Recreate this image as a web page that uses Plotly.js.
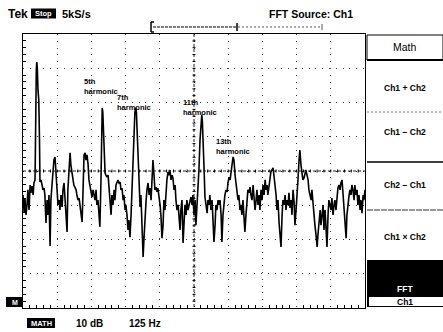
<!DOCTYPE html>
<html><head><meta charset="utf-8">
<script src="https://cdn.plot.ly/plotly-3.0.1.min.js"></script>
<style>html,body{margin:0;padding:0;background:#fff;}#chart{width:443px;height:332px;}</style>
</head><body><div id="chart"></div>
<script>
// FFT of Ch1, 125 Hz/div horizontally, 10 dB/div vertically
const freqHz = [
0,4,7,11,15,18,22,26,29,33,37,40,
44,45.7,48.6,50.4,52.3,54.8,57.7,60.3,
62,66,69,73,77,80,84,88,91,95,
99,102,106,110,113,117,121,124,128,132,
135,139,143,146,150,154,157,161,164,168,
172,175,179,183,186,190,194,197,201,205,
208,212,216,219,223,227,230,234,238,241,
245,249,252,256,260,263,267,270,274,278,
281,285,287.6,289.5,291.7,294.2,296,
300,303,307,311,314,
318,322,325,329,333,336,340,344,347,351,
355,358,362,366,369,373,376,380,384,387,
391,395,398,402,406,409,412,414.5,417,420,424,
428,431,435,439,442,446,450,453,457,461,
464,468,472,475,479,482,486,490,493,497,
501,504,508,512,515,519,523,526,530,534,
537,541,545,548,552,556,559,563,567,570,
574,577,581,585,588,592,596,599,603,607,
610,614,618,621,625,629,632,636,640,643,
647,651,653.5,655.7,658,662,665,669,673,676,680,
683,687,691,694,698,702,705,709,713,716,
720,724,727,731,735,738,742,746,749,753,
757,760,764,768,771,775,779,782,786,789,
793,797,800,804,808,811,815,819,822,826,
830,833,837,841,844,848,852,855,859,863,
866,870,874,877,881,885,888,892,895,899,
903,906,910,914,917,921,925,928,932,936,
939,943,947,950,954,958,961,965,969,972,
976,980,983,987,991,994,998,1001,1005,1009,
1012,1016,1020,1023,1027,1031,1034,1038,1042,1045,
1049,1053,1056,1060,1064,1067,1071,1075,1078,1082,
1086,1089,1093,1097,1100,1104,1107,1111,1115,1118,
1122,1126,1129,1133,1137,1140,1144,1148,1151,1155,
1159,1162,1166,1170,1173,1177,1181,1184,1188,1192,
1195,1199,1202,1206,1210,1213,1217,1221,1224,1228,
1232,1235,1239,1243,1246,1250];
const levelDb = [
-47.0,-52.0,-47.9,-52.8,-49.6,-45.5,-51.4,-44.1,-46.4,-44.4,-47.0,-43.5,
-42.6,-25.1,-10.5,-8.2,-9.9,-16.4,-19.3,-30.9,
-43.2,-42.6,-44.1,-45.5,-45.0,-47.0,-55.2,-48.5,-52.8,-47.0,
-61.9,-48.5,-44.1,-39.7,-36.8,-35.9,-41.2,-45.5,-49.9,-48.5,
-51.4,-47.0,-50.5,-45.5,-43.5,-48.5,-52.8,-57.8,-45.5,-39.7,
-34.7,-38.2,-41.2,-42.6,-44.1,-45.0,-45.5,-47.0,-48.5,-47.9,
-49.9,-51.4,-54.9,-47.0,-35.3,-34.7,-36.8,-35.3,-38.2,-42.6,
-44.1,-45.5,-47.6,-45.5,-47.0,-48.5,-45.5,-49.9,-48.5,-52.8,
-56.3,-42.6,-25.1,-21.6,-22.8,-28.0,-33.9,
-40.6,-41.2,-41.8,-41.2,-44.1,
-48.5,-52.8,-47.0,-49.9,-45.5,-48.5,-44.1,-43.2,-42.6,-43.5,
-43.2,-45.5,-45.0,-48.5,-47.0,-51.4,-49.9,-52.8,-57.2,-54.3,
-59.3,-52.8,-45.5,-36.8,-28.0,-22.8,-21.6,-22.8,-28.0,-33.9,-44.1,
-50.5,-47.0,-55.8,-65.1,-60.1,-51.4,-48.5,-45.5,-43.5,-47.0,
-45.0,-48.5,-41.2,-36.8,-41.2,-45.5,-44.7,-46.1,-45.0,-47.0,
-49.9,-52.8,-59.6,-55.8,-48.5,-51.4,-45.5,-42.6,-40.3,-41.2,
-39.7,-42.6,-41.2,-42.0,-45.5,-44.1,-48.5,-51.4,-49.9,-53.4,
-57.2,-51.4,-48.5,-61.0,-54.3,-49.9,-52.8,-48.5,-51.4,-49.9,
-48.5,-47.6,-49.9,-47.0,-52.8,-48.5,-55.8,-49.9,-45.5,-39.7,
-30.9,-24.5,-23.6,-25.7,-33.9,-39.7,-47.6,-49.9,-52.3,-48.5,-49.9,
-47.0,-51.4,-48.5,-54.3,-60.7,-55.8,-49.9,-51.4,-48.5,-49.9,
-48.5,-52.8,-60.7,-52.8,-48.5,-47.0,-45.5,-46.1,-43.5,-41.8,
-42.6,-41.2,-38.2,-35.9,-36.8,-41.2,-44.1,-45.5,-48.5,-47.0,
-51.4,-49.9,-52.8,-48.5,-55.8,-57.8,-52.8,-48.5,-45.5,-46.4,
-44.7,-47.0,-48.5,-44.1,-47.0,-51.4,-48.5,-45.5,-49.9,-47.0,
-51.4,-45.5,-48.5,-44.1,-47.0,-42.6,-45.5,-44.1,-47.0,-45.0,
-42.0,-40.3,-39.7,-39.1,-41.2,-44.1,-47.0,-51.4,-48.5,-55.2,
-60.1,-62.2,-52.8,-48.5,-49.9,-47.0,-51.4,-48.5,-49.9,-46.4,
-50.8,-48.5,-52.8,-45.5,-49.3,-55.8,-51.4,-48.5,-42.6,-36.8,
-33.9,-38.2,-41.2,-42.6,-42.0,-40.3,-39.7,-41.2,-42.6,-45.5,
-47.0,-48.5,-45.5,-49.9,-51.4,-55.8,-58.7,-62.2,-58.7,-54.3,
-51.4,-55.8,-52.8,-49.9,-57.2,-51.4,-55.8,-62.2,-52.8,-48.5,
-49.9,-51.4,-47.9,-52.8,-49.9,-48.5,-51.4,-47.0,-45.0,-44.1,
-45.5,-43.5,-42.6,-47.0,-51.4,-55.8,-59.6,-52.8,-48.5,-47.0,
-45.5,-47.0,-44.1,-45.5,-48.5,-44.1,-47.0,-45.5,-49.9,-47.0,
-51.4,-48.5,-52.3,-47.0,-48.5,-45.5];
const harmonicOrders = ['5th','7th','11th','13th'];
const menuItems = ['Ch1 + Ch2','Ch1 \u2212 Ch2','Ch2 \u2212 Ch1','Ch1 \u00d7 Ch2'];
const scaleLabels = ['10 dB','125 Hz'];

// screen geometry helpers (pixel -> paper)
const L=23,T=34,W=342,H=274;
const px = x => (x-L)/W;
const py = y => (T+H-y)/H;
const F = 'Liberation Sans, Arial, sans-serif';

function txt(text,x,y,size,opt){
  opt=opt||{};
  return {text:text,x:px(x),y:py(y),xref:'paper',yref:'paper',showarrow:false,
    xanchor:opt.xa||'left',yanchor:opt.ya||'middle',align:'left',borderpad:0,
    font:{family:F,size:size,color:opt.color||'#000',weight:opt.weight||'bold'}};
}
function rect(x0,y0,x1,y1,fill,lineColor,lw){
  return {type:'rect',xref:'paper',yref:'paper',x0:px(x0),x1:px(x1),y0:py(y0),y1:py(y1),
    fillcolor:fill||'rgba(0,0,0,0)',line:{color:lineColor||'rgba(0,0,0,0)',width:lw||0},layer:'above'};
}
function seg(x0,y0,x1,y1,color,w,dash){
  return {type:'line',xref:'paper',yref:'paper',x0:px(x0),x1:px(x1),y0:py(y0),y1:py(y1),
    line:{color:color||'#000',width:w||1,dash:dash||'solid'},layer:'above'};
}

const annotations=[
  txt('Tek',7,13.5,12),
  txt('Stop',43,13.5,7.5,{xa:'center',color:'#fff'}),
  txt('5kS/s',61,13.5,11),
  txt('FFT Source: Ch1',268,13.5,10.5),
  txt('Math',405,47,10.5,{xa:'center',weight:'normal'}),
  txt(menuItems[0],405,88,8.5,{xa:'center'}),
  txt(menuItems[1],405,132,8.5,{xa:'center'}),
  txt(menuItems[2],405,185,8.5,{xa:'center'}),
  txt(menuItems[3],405,237,8.5,{xa:'center'}),
  txt('FFT',405,289,8.5,{xa:'center',color:'#fff'}),
  txt('Ch1',405,302,8.5,{xa:'center'}),
  txt('M',14.5,302,7,{xa:'center',color:'#fff'}),
  txt('MATH',41,323,7.5,{xa:'center',color:'#fff'}),
  txt(scaleLabels[0],75,323,10),
  txt(scaleLabels[1],128,323,10),
  txt(harmonicOrders[0]+'<br>harmonic',83,76,7.5,{ya:'top'}),
  txt(harmonicOrders[1]+'<br>harmonic',116,92,7.5,{ya:'top'}),
  txt(harmonicOrders[2]+'<br>harmonic',182,97,7.5,{ya:'top'}),
  txt(harmonicOrders[3]+'<br>harmonic',215,136,7.5,{ya:'top'})
];

const shapes=[
  rect(31,8.5,56,18.5,'#000'),
  rect(6,297,23,307,'#000'),
  rect(27,318,55,328,'#000'),
  // trigger/record bracket
  seg(151,22,151,32,'#000',1.5), seg(151,22,154,22,'#000',1.5), seg(151,32,154,32,'#000',1.5),
  seg(153,27,236,27,'#000',1,'3px,1px'),
  seg(237,23,237,31,'#000',1.5),
  seg(238,27,322,27,'#555',1,'2px,2px'),
  seg(322,24,322,30,'#555',1),
  // menu
  rect(367,35,443,60,null,'#000',1),
  seg(367,60,443,60,'#000',2),
  seg(367,112,443,112,'#777',1,'2px,2px'),
  seg(367,162,443,162,'#000',1.5),
  seg(367,210,443,210,'#333',1,'6px,1px'),
  rect(367,260,443,307,'#000'),
  rect(369,297,443,306,'#fff'),
  // center crosshair
  seg(23,171,365,171,'#222',1,'3px,2px'),
  seg(194,34,194,308,'#222',1,'3px,2px')
];
// minor tick marks along the centre crosshair (5 per division)
for(let i=1;i<50;i++){
  const x=L+i*W/50; shapes.push(seg(x,169.5,x,172.5,'#000',1));
}
for(let j=1;j<40;j++){
  const y=T+j*H/40; shapes.push(seg(192.5,y,195.5,y,'#000',1));
}

const axisCommon={showticklabels:false,zeroline:false,showline:true,linecolor:'#000',linewidth:1,
  mirror:true,ticks:'',gridcolor:'#333',gridwidth:1,griddash:'1px,5.8px',fixedrange:true};

const data=[{x:freqHz,y:levelDb,type:'scatter',mode:'lines',
  line:{color:'#000',width:1.6,shape:'linear'},hoverinfo:'skip'}];

const layout={width:443,height:332,margin:{l:23,r:78,t:34,b:24},
  paper_bgcolor:'#fff',plot_bgcolor:'#fff',showlegend:false,
  xaxis:Object.assign({},axisCommon,{range:[0,1250],tick0:0,dtick:125,
    minor:{dtick:25,ticks:'inside',ticklen:3,tickcolor:'#000',showgrid:false}}),
  yaxis:Object.assign({},axisCommon,{range:[-80,0],tick0:0,dtick:10,
    minor:{dtick:2,ticks:'inside',ticklen:3,tickcolor:'#000',showgrid:false}}),
  annotations:annotations,shapes:shapes};

Plotly.newPlot('chart',data,layout,{staticPlot:true,displayModeBar:false});
</script></body></html>
